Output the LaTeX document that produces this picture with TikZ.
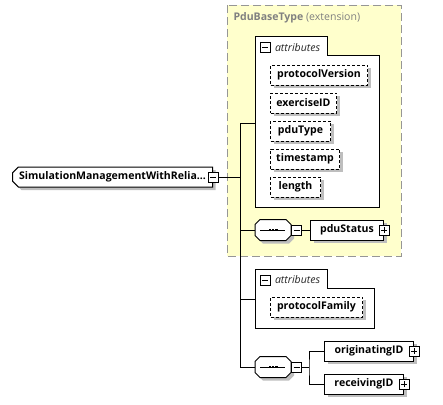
\documentclass[tikz,border=0pt]{standalone}
\usepackage{fontspec}
\newfontfamily\uifont{Open Sans}
\usetikzlibrary{positioning,shapes.misc,shadows}
\newdimen\px \px=0.75pt
\definecolor{extfill}{RGB}{255,255,204}
\definecolor{extline}{RGB}{150,150,150}
\definecolor{shadowgray}{RGB}{190,190,190}
\definecolor{titlegray}{RGB}{128,128,128}
% octagon round a node, shifted by #2,#3
\newcommand\octopath[3]{([shift={(#2+5\px,#3)}]#1.north west) -- ([shift={(#2-5\px,#3)}]#1.north east)
  -- ([shift={(#2,#3-5\px)}]#1.north east) -- ([shift={(#2,#3+5\px)}]#1.south east)
  -- ([shift={(#2-5\px,#3)}]#1.south east) -- ([shift={(#2+5\px,#3)}]#1.south west)
  -- ([shift={(#2,#3+5\px)}]#1.south west) -- ([shift={(#2,#3-5\px)}]#1.north west) -- cycle}
\newcommand\compositor[1]{%
  \fill[shadowgray] \octopath{#1}{3\px}{-3\px};
  \draw[fill=white] \octopath{#1}{0pt}{0pt};
  \draw ([xshift=5\px]#1.west) -- ([xshift=-6\px]#1.east);
  \foreach \dx in {-4.5,-1.2,2.1}
    \fill ([shift={(\dx\px,-1.3\px)}]#1.center) rectangle ++(2.6\px,2.6\px);
}
\tikzset{
  lbl/.style={font=\uifont\bfseries\fontsize{7.9}{9}\selectfont},
  shade/.style={drop shadow={shadow xshift=3\px, shadow yshift=-3\px, fill=shadowgray, opacity=1}},
  elem/.style={lbl, shade, draw, fill=white, minimum height=20\px, inner sep=0pt, anchor=west},
  attrib/.style={elem, dash pattern=on 2.25pt off 1.5pt},
  root/.style={elem, chamfered rectangle, chamfered rectangle corners={north west,south west}, chamfered rectangle xsep=2\px},
  seq/.style={minimum width=35\px, minimum height=20\px, inner sep=0pt, anchor=west},
  togg/.style={draw, fill=white, minimum size=10\px, inner sep=0pt},
  minusbox/.style={togg, path picture={
      \draw ([xshift=2\px]path picture bounding box.west) -- ([xshift=-2\px]path picture bounding box.east);}},
  plusbox/.style={togg, path picture={
      \draw ([xshift=2\px]path picture bounding box.west) -- ([xshift=-2\px]path picture bounding box.east);
      \draw ([yshift=2\px]path picture bounding box.south) -- ([yshift=-2\px]path picture bounding box.north);}},
  attrhead/.style={font=\uifont\itshape\fontsize{7.9}{9}\selectfont, text=black!85, inner sep=0pt},
  title/.style={font=\uifont\fontsize{7.9}{9}\selectfont, text=titlegray, anchor=west, inner sep=0pt}
}
\begin{document}
\begin{tikzpicture}[x=0.75pt,y=-0.75pt,line width=0.75pt]
  \useasboundingbox (0,0) rectangle (443,404);

  % PduBaseType extension
  \draw[extline, fill=extfill, dash pattern=on 6pt off 3pt] (227,5) rectangle (401,256);
  \node[title] (basetitle) at (233,18) {\textbf{PduBaseType} (extension)};

  % inherited attributes
  \draw[fill=white] (255,207) |- (327,36) |- (379,55) |- (255,207) -- cycle;
  \node[minusbox] (attrAtog) at (265,47.5) {};
  \node[attrhead, right=4\px of attrAtog] (attrAhead) {attributes};
  \coordinate (attrA) at (255,123);
  \node[attrib, minimum width=97\px] (protocolVersion) at (270,75) {protocolVersion};
  \node[attrib, minimum width=66\px] (exerciseID) at (270,103) {exerciseID};
  \node[attrib, minimum width=60\px] (pduType) at (270,131) {pduType};
  \node[attrib, minimum width=69\px] (timestamp) at (270,159) {timestamp};
  \node[attrib, minimum width=50\px] (length) at (270,187) {length};

  % pduStatus sequence
  \node[seq] (seqA) at (255,230) {};
  \compositor{seqA}
  \node[minusbox, anchor=west] (seqAtog) at (seqA.east) {};
  \node[elem, minimum width=73\px] (pduStatus) at (310,230) {pduStatus};
  \node[plusbox] (pduStatustog) at (pduStatus.east) {};

  % own attributes
  \draw[fill=white] (255,328) |- (327,269) |- (374,288) |- (255,328) -- cycle;
  \node[minusbox] (attrBtog) at (265,280) {};
  \node[attrhead, right=4\px of attrBtog] (attrBhead) {attributes};
  \coordinate (attrB) at (255,299);
  \node[attrib, minimum width=92\px] (protocolFamily) at (270,307) {protocolFamily};

  % id sequence
  \node[seq] (seqB) at (255,367) {};
  \compositor{seqB}
  \node[minusbox, anchor=west] (seqBtog) at (seqB.east) {};
  \coordinate (seqBfork) at (309,367);
  \node[elem, minimum width=89\px] (originatingID) at (324,351) {originatingID};
  \node[plusbox] (originatingIDtog) at (originatingID.east) {};
  \node[elem, minimum width=79\px] (receivingID) at (324,384) {receivingID};
  \node[plusbox] (receivingIDtog) at (receivingID.east) {};

  % root element
  \node[root, minimum width=200\px] (simMgmt) at (12,177) {SimulationManagementWithRelia...};
  \node[minusbox] (simMgmttog) at (simMgmt.east) {};

  % connections
  \coordinate (spine) at (240,177);
  \draw (simMgmttog.east) -- (spine);
  \draw (spine |- attrA) -- (spine |- seqB.west);
  \draw (spine |- attrA) -- (attrA);
  \draw (spine |- seqA.west) -- (seqA.west);
  \draw (seqAtog.east) -- (pduStatus.west);
  \draw (spine |- attrB) -- (attrB);
  \draw (spine |- seqB.west) -- (seqB.west);
  \draw (seqBtog.east) -- (seqBfork);
  \draw (originatingID.west) -| (seqBfork) |- (receivingID.west);
\end{tikzpicture}
\end{document}
